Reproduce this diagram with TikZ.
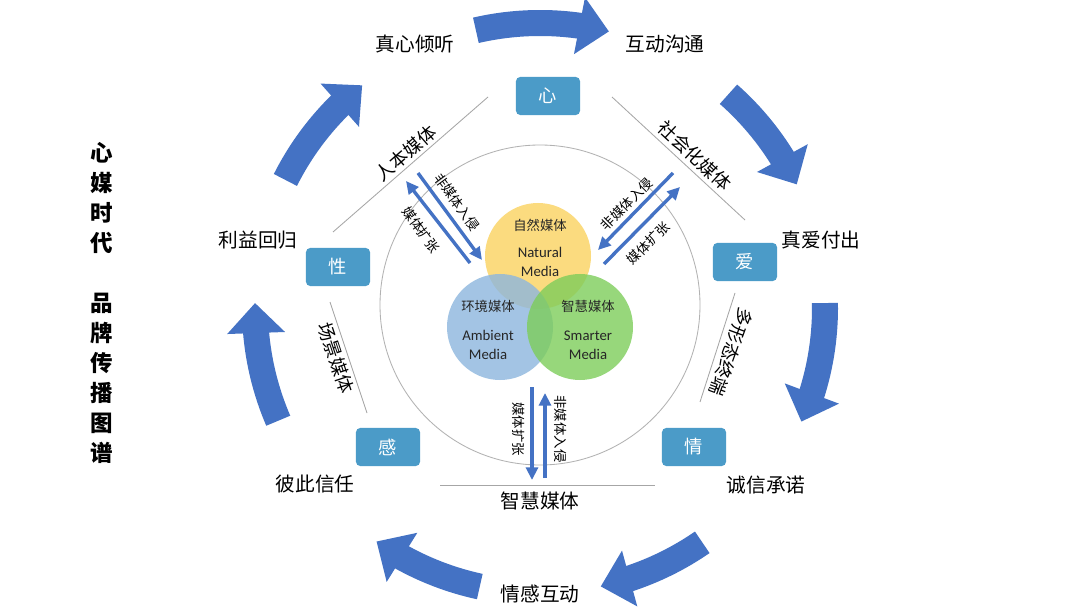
\documentclass[tikz,border=0pt]{standalone}
\usepackage{fontspec}
\setmainfont{Noto Sans CJK SC}
\newfontfamily\latfont{Carlito}
\usetikzlibrary{arrows.meta,bending}

\definecolor{ringblue}{RGB}{68,114,196}
\definecolor{keyblue}{RGB}{75,155,200}
\definecolor{natyellow}{RGB}{250,210,95}
\definecolor{ambblue}{RGB}{140,182,222}
\definecolor{smagreen}{RGB}{125,205,90}

\begin{document}
\begin{tikzpicture}[x=0.025cm,y=0.025cm,
    bigarrow/.style={ringblue,line width=0.65cm,-{Triangle[width=1.4cm,length=0.75cm]}},
    flowarrow/.style={ringblue,line width=2.4pt,-{Triangle[width=8.5pt,length=9pt]}},
    sepline/.style={gray!70,line width=0.6pt},
    keybox/.style={fill=keyblue,rounded corners=3pt,minimum width=1.6cm,minimum height=0.95cm,
      text=white,font=\fontsize{13}{15}\selectfont},
    steplabel/.style={font=\fontsize{14}{16}\selectfont},
    medialabel/.style={font=\fontsize{13}{15}\selectfont},
    flowlabel/.style={font=\fontsize{9.5}{11}\selectfont,inner sep=1pt},
    venn/.style={fill opacity=0.8,draw=none},
    venncn/.style={font=\fontsize{9.5}{11}\selectfont,text=black!85},
    vennen/.style={font=\latfont\fontsize{10.5}{13.5}\selectfont,align=center,text=black!85}]
\fill[white] (0,0) rectangle (1080,607);
\useasboundingbox (0,0) rectangle (1080,607);

\node[font=\bfseries\fontsize{16}{21.3}\selectfont,align=center] (title) at (102,304)
  {心\\媒\\时\\代\\[21.3pt]品\\牌\\传\\播\\图\\谱};

\foreach \a/\b in {103/76,48.6/25.7,1/-23.5,-55.3/-77.7,-102.2/-125,-156.7/-181,153.3/128.6}
  \draw[bigarrow] (540,299) ++(\a:285) arc[start angle=\a,end angle=\b,radius=285];

\node[steplabel] (listen) at (415,563) {真心倾听};
\node[steplabel] (talk) at (665,563) {互动沟通};
\node[steplabel] (love) at (821,367) {真爱付出};
\node[steplabel] (promise) at (766,122) {诚信承诺};
\node[steplabel] (feel) at (540,13) {情感互动};
\node[steplabel] (trust) at (315,123) {彼此信任};
\node[steplabel] (gain) at (258,367) {利益回归};

\node[keybox] (xin) at (548,511) {心};
\node[keybox] (ai) at (745,345) {爱};
\node[keybox] (qing) at (694,160) {情};
\node[keybox] (gan) at (388,160) {感};
\node[keybox] (xing) at (338,340) {性};

\draw[gray!60,line width=0.6pt] (540,302) circle[radius=160];

\draw[sepline] (333,375) -- (488,510);
\node[medialabel,rotate=41] (human) at (406,454) {人本媒体};
\draw[sepline] (612,510) -- (745,387);
\node[medialabel,rotate=-43] (social) at (695,451) {社会化媒体};
\draw[sepline] (330,305) -- (367,194);
\node[medialabel,rotate=-71.6] (scene) at (336,249) {场景媒体};
\draw[sepline] (735,314) -- (700,205);
\node[medialabel,rotate=-110] (multi) at (731,255) {多形态终端};
\draw[sepline] (440,122) -- (655,122);
\node[medialabel,font=\fontsize{14}{16}\selectfont] (smart) at (540,106) {智慧媒体};

\fill[natyellow,venn] (538,351) circle[radius=53];
\fill[ambblue,venn] (500,280) circle[radius=53];
\fill[smagreen,venn] (580,280) circle[radius=53];
\node[venncn] (natcn) at (540,382) {自然媒体};
\node[vennen] (naten) at (540,345) {Natural\\Media};
\node[venncn] (ambcn) at (488,301) {环境媒体};
\node[vennen] (amben) at (488,262) {Ambient\\Media};
\node[venncn] (smacn) at (588,301) {智慧媒体};
\node[vennen] (smaen) at (588,262) {Smarter\\Media};

\coordinate (ulin0) at (418,434);
\coordinate (ulin1) at (482,347);
\coordinate (ulout0) at (470,344);
\coordinate (ulout1) at (406,426);
\draw[flowarrow] (ulin0) -- (ulin1);
\draw[flowarrow] (ulout0) -- (ulout1);
\node[flowlabel,rotate=-53.7] (ulintext) at (457,405) {非媒体入侵};
\node[flowlabel,rotate=-53.7] (ulouttext) at (421,377) {媒体扩张};

\coordinate (urin0) at (673,434);
\coordinate (urin1) at (598,357);
\coordinate (urout0) at (604,343);
\coordinate (urout1) at (680,420);
\draw[flowarrow] (urin0) -- (urin1);
\draw[flowarrow] (urout0) -- (urout1);
\node[flowlabel,rotate=45] (urintext) at (627,403) {非媒体入侵};
\node[flowlabel,rotate=45] (urouttext) at (648,364) {媒体扩张};

\coordinate (bout0) at (532,220);
\coordinate (bout1) at (532,127);
\coordinate (bin0) at (545,129);
\coordinate (bin1) at (545,214);
\draw[flowarrow] (bout0) -- (bout1);
\draw[flowarrow] (bin0) -- (bin1);
\node[flowlabel,rotate=-90] (bouttext) at (519,178) {媒体扩张};
\node[flowlabel,rotate=-90] (bintext) at (561,178) {非媒体入侵};
\end{tikzpicture}
\end{document}
